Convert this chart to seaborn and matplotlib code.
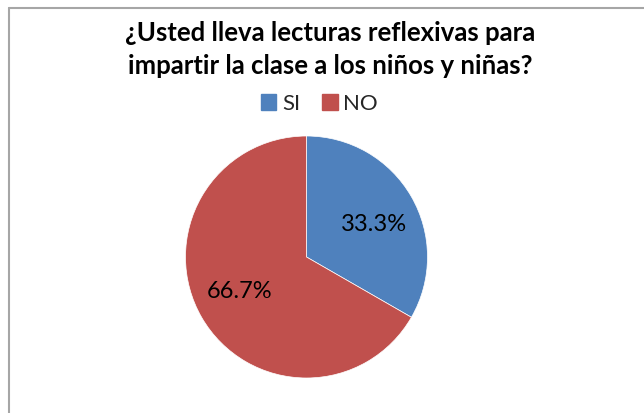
import matplotlib
matplotlib.use("Agg")
import numpy as np
import matplotlib.pyplot as plt
import seaborn as sns
from matplotlib.lines import Line2D
from matplotlib.patches import Rectangle

sns.set_theme(style="white")
plt.rcParams['font.family'] = ['Lato', 'DejaVu Sans']

title_lines = ["¿Usted lleva lecturas reflexivas para",
               "impartir la clase a los niños y niñas?"]
categories = ["SI", "NO"]
values = [33.3, 66.7]
colors = ["#4F81BD", "#C0504D"]

W, H = 644, 414
fig = plt.figure(figsize=(W / 100, H / 100), dpi=100)
fig.patch.set_facecolor("white")

# chart border (left and top visible)
fig.add_artist(Line2D([8.5 / W, 8.5 / W], [0, 1 - 8.5 / H], transform=fig.transFigure,
                      color="#A6A6A6", lw=1.5))
fig.add_artist(Line2D([8.5 / W, 1], [1 - 8.5 / H, 1 - 8.5 / H], transform=fig.transFigure,
                      color="#A6A6A6", lw=1.5))

cx, cy, r = 306.5, 258, 121
ax = fig.add_axes([(cx - r) / W, (H - cy - r) / H, 2 * r / W, 2 * r / H])
wedges, texts, autotexts = ax.pie(values, colors=colors, startangle=90, counterclock=False,
                                  autopct="%1.1f%%", pctdistance=0.62,
                                  wedgeprops=dict(linewidth=0.5, edgecolor="white"),
                                  textprops=dict(fontsize=17, color="black"))
# Excel-like label placement: slightly rotated clockwise from slice middle
rot = np.deg2rad(-3.5)
for t in autotexts:
    x, y = t.get_position()
    t.set_position((x * np.cos(rot) - y * np.sin(rot), x * np.sin(rot) + y * np.cos(rot)))

ax.set_xlim(-1, 1)
ax.set_ylim(-1, 1)
ax.set_aspect("equal")
ax.axis("off")

fig.text(330 / W, 1 - 41 / H, title_lines[0], ha="center", va="baseline",
         fontsize=18.5, fontweight="bold", color="black")
fig.text(330 / W, 1 - 74 / H, title_lines[1], ha="center", va="baseline",
         fontsize=18.5, fontweight="bold", color="black")

handles = [Rectangle((0, 0), 1, 1, color=c) for c in colors]
fig.legend(handles, categories, loc="center", bbox_to_anchor=(319.5 / W, 1 - 104.5 / H),
           ncol=2, frameon=False, fontsize=16, handlelength=0.7, handleheight=0.7,
           handletextpad=0.25, columnspacing=1.0, borderpad=0)

fig.savefig("out.png", dpi=100, facecolor="white")
